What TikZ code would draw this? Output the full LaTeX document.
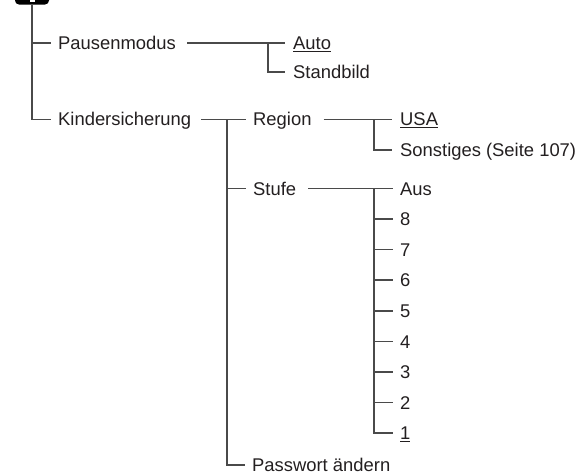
\documentclass[tikz,border=0pt]{standalone}
\usepackage{fontspec}
\setmainfont{Liberation Sans}
\definecolor{ink}{HTML}{231F20}
\definecolor{wire}{HTML}{4A4A4A}

\begin{document}
\begin{tikzpicture}[x=1pt, y=-1pt,
    item/.style={anchor=west, inner sep=0pt, text height=13.2pt, text depth=0pt, text=ink, font=\fontsize{18.4}{22}\selectfont},
    link/.style={draw=wire, line width=1.6pt},
    menubox/.style={fill=black, rounded corners=4pt, minimum width=34pt, minimum height=14pt, inner sep=0pt}]
    \useasboundingbox (0,0) rectangle (576,474);
    \clip (0,0) rectangle (576,474);
    \node[menubox] (top) at (32,-2.5) {};
    \fill[white] (30,-1) rectangle (35,2);

    \node[item] (pm) at (58,42.7) {Pausenmodus};
    \node[item] (auto) at (293,42.7) {\underline{Auto}};
    \node[item] (stand) at (293,71.7) {Standbild};
    \node[item] (ks) at (58,119.3) {Kindersicherung};
    \node[item] (region) at (253,119.3) {Region};
    \node[item] (usa) at (400,119.3) {\underline{USA}};
    \node[item] (sonst) at (400,150) {Sonstiges (Seite 107)};
    \node[item] (stufe) at (253,188.4) {Stufe};
    \foreach \lvl [count=\i] in {Aus,8,7,6,5,4,3,2,\underline{1}}
        \node[item] (lv\i) at (400,188.4+30.6*\i-30.6) {\lvl};
    \node[item] (pw) at (252,464.8) {Passwort ändern};

    \coordinate (pmj) at (268,42.7);
    \coordinate (ksj) at (227,119.3);
    \coordinate (rgj) at (374,119.3);
    \coordinate (stj) at (374,188.4);

    \draw[link] (top.south) |- ([xshift=-7pt]pm.west);
    \draw[link] (top.south) |- ([xshift=-7pt]ks.west);
    \draw[link] ([xshift=11pt]pm.east) -- ([xshift=-8pt]auto.west);
    \draw[link] (pmj) |- ([xshift=-8pt]stand.west);
    \draw[link] ([xshift=10pt]ks.east) -- ([xshift=-7pt]region.west);
    \draw[link] (ksj) |- ([xshift=-7pt]pw.west);
    \draw[link] (ksj |- stufe.west) -- ([xshift=-7pt]stufe.west);
    \draw[link] ([xshift=12pt]region.east) -- ([xshift=-8pt]usa.west);
    \draw[link] (rgj) |- ([xshift=-8pt]sonst.west);
    \draw[link] ([xshift=12pt]stufe.east) -- ([xshift=-7pt]lv1.west);
    \draw[link] (stj) |- ([xshift=-7pt]lv9.west);
    \foreach \i in {2,...,8}
        \draw[link] (stj |- lv\i.west) -- ([xshift=-7pt]lv\i.west);
\end{tikzpicture}
\end{document}
